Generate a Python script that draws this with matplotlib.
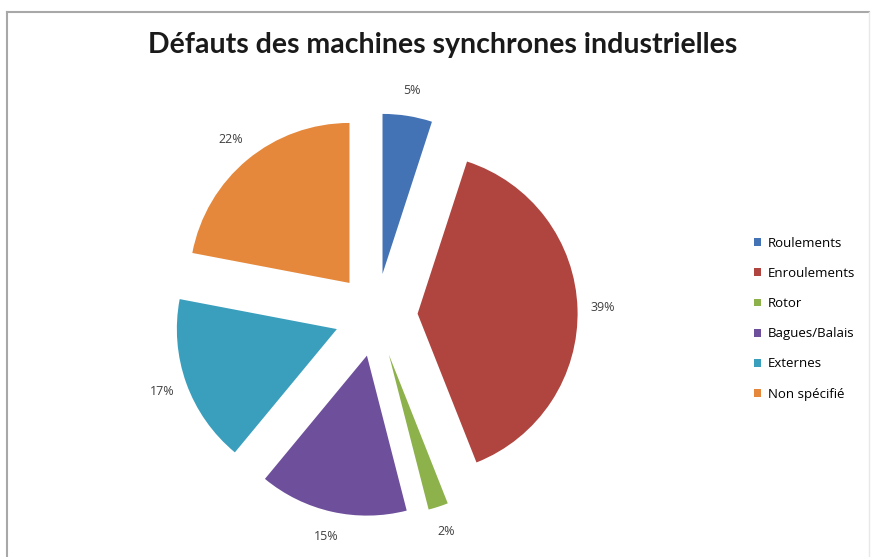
import matplotlib.pyplot as plt
from matplotlib.lines import Line2D

categories = ['Roulements', 'Enroulements', 'Rotor', 'Bagues/Balais', 'Externes', 'Non spécifié']
values = [5, 39, 2, 15, 17, 22]
colors = ['#4373B4', '#B0443F', '#8DB14B', '#6E4F9C', '#3A9EBD', '#E5883B']

W, H = 872, 557
fig = plt.figure(figsize=(W / 100, H / 100), dpi=100)

# pie centre ~ (376, 315) px, radius ~160 px
cx, cy, r = 376, 315, 160
half = 230
ax = fig.add_axes([(cx - half) / W, (H - cy - half) / H, 2 * half / W, 2 * half / H])

wedges, texts, autotexts = ax.pie(values, colors=colors, startangle=90, counterclock=False,
                                  explode=[0.26] * len(values), radius=1,
                                  autopct='%1.0f%%', pctdistance=1.16,
                                  textprops={'fontsize': 9, 'color': '#404040', 'family': 'Open Sans'})
ax.set_xlim(-half / r, half / r)
ax.set_ylim(-half / r, half / r)
ax.set_aspect('equal')
ax.axis('off')

fig.text(443 / W, 1 - 45 / H, 'Défauts des machines synchrones industrielles',
         ha='center', va='center', fontsize=20.5, fontweight='bold', family='Lato',
         color='#1a1a1a')

handles = [plt.Rectangle((0, 0), 1, 1, facecolor=c) for c in colors]
fig.legend(handles, categories, loc='upper left', bbox_to_anchor=(742 / W, 1 - 225 / H),
           frameon=False, handlelength=0.55, handleheight=0.55,
           handletextpad=0.5, labelspacing=1.3, prop={'family': 'Open Sans', 'size': 9.5})

# outer chart border
fig.add_artist(Line2D([7 / W, 7 / W], [0, 1 - 12 / H], color='#a8a8a8', lw=1.5))
fig.add_artist(Line2D([7 / W, 869 / W], [1 - 12 / H, 1 - 12 / H], color='#a8a8a8', lw=1.5))
fig.add_artist(Line2D([869 / W, 869 / W], [0, 1 - 12 / H], color='#e8e8e8', lw=1))

fig.savefig('out.png', dpi=100)
